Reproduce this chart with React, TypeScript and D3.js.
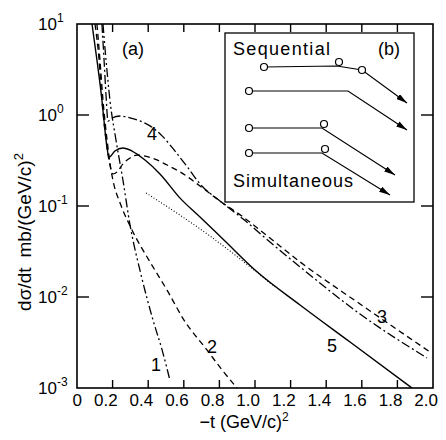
import React from "react";
import * as d3 from "d3";

const W = 446;
const H = 440;

// axis ticks
const xTicks = [0, 0.2, 0.4, 0.6, 0.8, 1.0, 1.2, 1.4, 1.6, 1.8, 2.0];
const xTickLabels = ["0", "0.2", "0.4", "0.6", "0.8", "1.0", "1.2", "1.4", "1.6", "1.8", "2.0"];
const yTicks = [1e1, 1e0, 1e-1, 1e-2, 1e-3];
const yTickExps = ["1", "0", "-1", "-2", "-3"];

// curve 1 (dash-dot-dot)
const c1T = [0.146, 0.163, 0.185, 0.219, 0.258, 0.298, 0.36, 0.427, 0.478, 0.522];
const c1V = [10, 4.02, 1.46, 0.531, 0.193, 0.0618, 0.0175, 0.00558, 0.00262, 0.00122];

// curve 2 (dashed)
const c2T = [0.112, 0.129, 0.146, 0.169, 0.191, 0.208, 0.242, 0.309, 0.41, 0.506, 0.601, 0.73, 0.815, 0.899];
const c2V = [10, 4.02, 1.46, 0.531, 0.249, 0.17, 0.108, 0.0545, 0.0243, 0.0119, 0.00558, 0.00262, 0.00158, 0.001];

// curve 3 (dashed)
const c3T = [0.101, 0.124, 0.14, 0.163, 0.185, 0.202, 0.225, 0.258, 0.298, 0.337, 0.382, 0.438, 0.506, 0.579, 0.691, 0.803, 0.933, 1.084, 1.253, 1.59, 1.983];
const c3V = [10, 4.02, 1.46, 0.531, 0.282, 0.225, 0.237, 0.29, 0.337, 0.363, 0.354, 0.328, 0.282, 0.237, 0.166, 0.1135, 0.0757, 0.0444, 0.0243, 0.00838, 0.00249];

// curve 4 (dash-dot)
const c4T = [0.14, 0.152, 0.163, 0.174, 0.197, 0.242, 0.298, 0.354, 0.41, 0.478, 0.551, 0.624, 0.691, 0.803, 0.933, 1.084, 1.253, 1.59, 1.966];
const c4V = [10, 4.02, 1.66, 0.859, 0.927, 0.975, 0.93, 0.86, 0.76, 0.59, 0.4, 0.262, 0.175, 0.1135, 0.0719, 0.0402, 0.0214, 0.0065, 0.00214];

// curve 5 (solid)
const c5T = [0.0843, 0.112, 0.14, 0.157, 0.169, 0.18, 0.213, 0.258, 0.309, 0.382, 0.466, 0.579, 0.691, 0.831, 1.0, 1.253, 1.534, 1.882];
const c5V = [10, 4.02, 1.46, 0.684, 0.434, 0.345, 0.402, 0.434, 0.402, 0.32, 0.225, 0.122, 0.0757, 0.0412, 0.0198, 0.00817, 0.0032, 0.001];

// dotted curve
const c6T = [0.388, 0.747, 1.112];
const c6V = [0.139, 0.0468, 0.0129];

const FONT = "'Liberation Sans', Arial, Helvetica, sans-serif";

export default function App() {
  const x = d3.scaleLinear().domain([0, 2]).range([77, 433]);
  const y = d3.scaleLog().domain([1e-3, 1e1]).range([388, 24]);
  const line = d3
    .line<[number, number]>()
    .x((d) => x(d[0]))
    .y((d) => y(d[1]))
    .curve(d3.curveMonotoneX);
  const mk = (t: number[], v: number[]) => line(t.map((tt, i) => [tt, v[i]] as [number, number])) || "";

  const curves = [
    { d: mk(c1T, c1V), dash: "9 3 2 3 2 3", w: 1.3 },
    { d: mk(c2T, c2V), dash: "6 4", w: 1.3 },
    { d: mk(c3T, c3V), dash: "6 4", w: 1.3 },
    { d: mk(c4T, c4V), dash: "9 3 2 3", w: 1.3 },
    { d: mk(c5T, c5V), dash: "", w: 1.4 },
    { d: mk(c6T, c6V), dash: "1 2", w: 1.1 },
  ];

  const x0 = x(0), x1 = x(2), yT = y(1e1), yB = y(1e-3);

  // inset diagram (local drawing)
  const ins = { l: 225, t: 33, r: 414, b: 202 };
  const rows = [
    { pts: [[264, 67], [337, 66], [362, 70], [407, 103]], circles: [[264, 67], [339, 62], [362, 70]] },
    { pts: [[249, 91], [348, 91], [407, 130]], circles: [[249, 91]] },
    { pts: [[249, 128], [322, 128], [395, 175]], circles: [[249, 128], [324, 124]] },
    { pts: [[249, 153], [322, 153], [390, 195]], circles: [[249, 153], [325, 149]] },
  ];

  return (
    <svg width={W} height={H} style={{ position: "absolute", left: 0, top: 0, background: "#fff" }} fontFamily={FONT}>
      <defs>
        <clipPath id="plot">
          <rect x={x0} y={yT} width={x1 - x0} height={yB - yT} />
        </clipPath>
        <marker id="arr" viewBox="0 0 11 6" refX="11" refY="3" markerWidth="11" markerHeight="6" markerUnits="userSpaceOnUse" orient="auto">
          <path d="M0,0 L11,3 L0,6 Z" fill="#000" />
        </marker>
      </defs>
      <rect width={W} height={H} fill="#fff" />

      {/* curves */}
      <g clipPath="url(#plot)" fill="none" stroke="#000">
        {curves.map((c, i) => (
          <path key={i} d={c.d} strokeWidth={c.w} strokeDasharray={c.dash || undefined} />
        ))}
      </g>

      {/* frame */}
      <rect x={x0} y={yT} width={x1 - x0} height={yB - yT} fill="none" stroke="#000" strokeWidth={1.6} />

      {/* x ticks */}
      {xTicks.slice(1, -1).map((t, i) => (
        <g key={"xt" + i} stroke="#000" strokeWidth={1.4}>
          <line x1={x(t)} x2={x(t)} y1={yB} y2={yB - 8} />
          <line x1={x(t)} x2={x(t)} y1={yT} y2={yT + 8} />
        </g>
      ))}
      {xTicks.map((t, i) => (
        <text key={"xl" + i} x={x(t) + 5} y={406} fontSize={17} textAnchor="end">
          {xTickLabels[i]}
        </text>
      ))}

      {/* y ticks */}
      {yTicks.slice(1, -1).map((v, i) => (
        <g key={"yt" + i} stroke="#000" strokeWidth={1.4}>
          <line x1={x0} x2={x0 + 12} y1={y(v)} y2={y(v)} />
          <line x1={x1} x2={x1 - 12} y1={y(v)} y2={y(v)} />
        </g>
      ))}
      {yTicks.map((v, i) => (
        <text key={"yl" + i} x={38} y={y(v) + 6} fontSize={17}>
          10
          <tspan fontSize={12} dy={-8}>{yTickExps[i]}</tspan>
        </text>
      ))}

      {/* axis titles */}
      <text x={244} y={428} fontSize={18} textAnchor="middle">
        −t (GeV/c)<tspan fontSize={12} dy={-7}>2</tspan>
      </text>
      <text transform="translate(31,232) rotate(-90)" fontSize={19} textAnchor="middle">
        dσ/dt<tspan dx={10}>mb/(GeV/c)</tspan>
        <tspan fontSize={13} dy={-8}>2</tspan>
      </text>

      {/* labels */}
      <text x={147} y={140} fontSize={18}>4</text>
      <text x={122} y={55} fontSize={18}>(a)</text>
      <text x={151} y={371} fontSize={18}>1</text>
      <text x={207} y={353} fontSize={18}>2</text>
      <text x={377} y={323} fontSize={18}>3</text>
      <text x={327} y={352} fontSize={18}>5</text>

      {/* inset */}
      <rect x={ins.l} y={ins.t} width={ins.r - ins.l} height={ins.b - ins.t} fill="#fff" stroke="#000" strokeWidth={1.3} />
      <text x={233} y={55} fontSize={18} textLength={97} lengthAdjust="spacing">Sequential</text>
      <text x={378} y={55} fontSize={18}>(b)</text>
      <text x={233} y={187} fontSize={18} textLength={120} lengthAdjust="spacing">Simultaneous</text>
      {rows.map((r, i) => (
        <g key={"row" + i}>
          <polyline points={r.pts.map((p) => p.join(",")).join(" ")} fill="none" stroke="#000" strokeWidth={1.2} markerEnd="url(#arr)" />
          {r.circles.map((c, j) => (
            <circle key={j} cx={c[0]} cy={c[1]} r={3.5} fill="#fff" stroke="#000" strokeWidth={1.2} />
          ))}
        </g>
      ))}
    </svg>
  );
}
